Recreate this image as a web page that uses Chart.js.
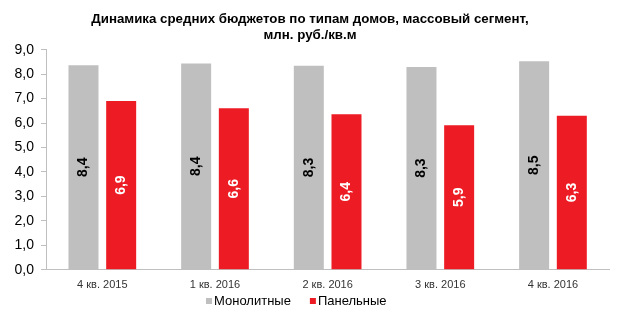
<!DOCTYPE html>
<html><head><meta charset="utf-8">
<script src="https://cdn.jsdelivr.net/npm/chart.js@4/dist/chart.umd.min.js"></script>
<style>html,body{margin:0;padding:0;background:#fff}#wrap{width:630px;height:333px}</style>
</head><body><div id="wrap"><canvas id="c" width="630" height="333"></canvas></div>
<script>
const titleLines = ['Динамика средних бюджетов по типам домов, массовый сегмент,', 'млн. руб./кв.м'];
const categories = ['4 кв. 2015', '1 кв. 2016', '2 кв. 2016', '3 кв. 2016', '4 кв. 2016'];
const seriesNames = ['Монолитные', 'Панельные'];
const monolith = [8.36, 8.44, 8.34, 8.29, 8.53];
const panel = [6.90, 6.60, 6.36, 5.91, 6.30];
const yTicks = [0, 1, 2, 3, 4, 5, 6, 7, 8, 9];
const colors = ['#bfbfbf', '#ed1c24'];
const labelColors = ['#000000', '#ffffff'];

const fmt = v => v.toFixed(1).replace('.', ',');

const extras = {
  id: 'extras',
  afterDatasetsDraw(chart) {
    const ctx = chart.ctx;
    ctx.save();
    chart.data.datasets.forEach((ds, di) => {
      const meta = chart.getDatasetMeta(di);
      meta.data.forEach((bar, i) => {
        const cx = bar.x, cy = (bar.y + bar.base) / 2;
        ctx.save();
        ctx.translate(cx, cy);
        ctx.rotate(-Math.PI / 2);
        ctx.font = 'bold 14px "Liberation Sans", Arial, sans-serif';
        ctx.fillStyle = labelColors[di];
        ctx.textAlign = 'center';
        ctx.textBaseline = 'middle';
        ctx.fillText(fmt(ds.data[i]), 0, 0);
        ctx.restore();
      });
    });
    // title
    ctx.font = 'bold 13.3px "Liberation Sans", Arial, sans-serif';
    ctx.fillStyle = '#000';
    ctx.textAlign = 'center';
    ctx.textBaseline = 'middle';
    ctx.fillText(titleLines[0], 310, 19.5);
    ctx.fillText(titleLines[1], 310, 35);
    // legend
    ctx.font = '13px "Liberation Sans", Arial, sans-serif';
    ctx.textAlign = 'left';
    let x = 206;
    const y = 301;
    chart.data.datasets.forEach((ds, di) => {
      ctx.fillStyle = colors[di];
      ctx.fillRect(x, y - 3, 6, 6);
      ctx.fillStyle = '#000';
      ctx.fillText(ds.label, x + 8, y);
      x += 8 + ctx.measureText(ds.label).width + 19;
    });
    ctx.restore();
  }
};

new Chart(document.getElementById('c'), {
  type: 'bar',
  data: {
    labels: categories,
    datasets: [
      { label: seriesNames[0], data: monolith, backgroundColor: colors[0] },
      { label: seriesNames[1], data: panel, backgroundColor: colors[1] }
    ]
  },
  options: {
    responsive: false,
    animation: false,
    devicePixelRatio: 1,
    layout: { padding: { top: 49.7, right: 20.7, bottom: 41.3, left: 0 } },
    datasets: { bar: { categoryPercentage: 0.669, barPercentage: 0.796 } },
    plugins: { legend: { display: false }, title: { display: false }, tooltip: { enabled: false } },
    scales: {
      x: {
        afterFit(s) { s.height = 22; },
        grid: { drawOnChartArea: false, drawTicks: false },
        border: { display: true, color: '#bfbfbf', width: 1 },
        ticks: { padding: 9, color: '#333333', font: { family: '"Liberation Sans", Arial, sans-serif', size: 11 } }
      },
      y: {
        min: 0, max: 9,
        afterFit(s) { s.width = 46; },
        afterBuildTicks(s) { s.ticks = yTicks.map(v => ({ value: v })); },
        grid: { drawOnChartArea: false, drawTicks: true, tickLength: 5, color: '#bfbfbf' },
        border: { display: true, color: '#bfbfbf', width: 1 },
        ticks: { padding: 7, color: '#000000', callback: v => fmt(v), font: { family: '"Liberation Sans", Arial, sans-serif', size: 14 } }
      }
    }
  },
  plugins: [extras]
});
</script></body></html>
